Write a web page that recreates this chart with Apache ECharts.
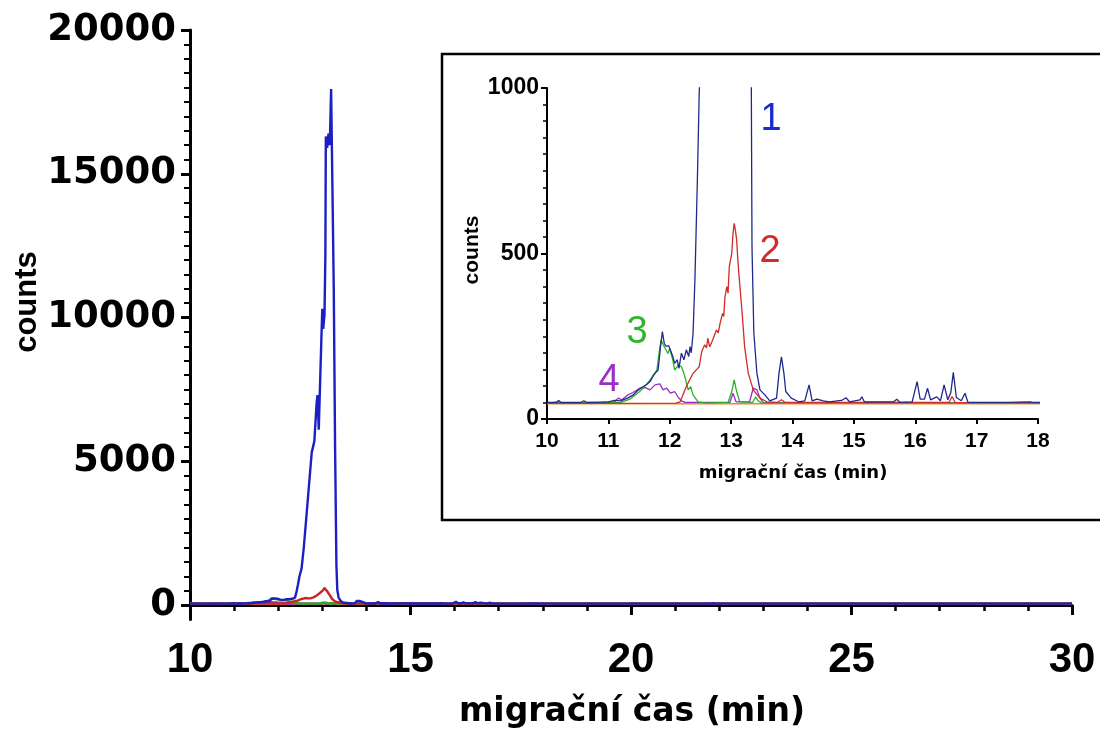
<!DOCTYPE html>
<html>
<head>
<meta charset="utf-8">
<script src="https://cdn.jsdelivr.net/npm/echarts@6/dist/echarts.min.js"></script>
<style>
html,body{margin:0;padding:0;background:#fff;}
#chart{width:1100px;height:734px;}
</style>
</head>
<body>
<div id="chart"></div>
<script>
// ---- data: [migration time (min), counts] ----
const trace1 = [[10.0,50],[10.15,50],[10.19,56],[10.23,50],[10.55,50],[10.6,55],[10.65,50],[10.9,51],[11.0,52],[11.1,56],[11.2,55],[11.32,64],[11.4,72],[11.46,83],[11.52,92],[11.57,98],[11.63,105],[11.68,113],[11.73,130],[11.76,138],[11.81,148],[11.85,219],[11.88,264],[11.91,229],[11.94,219],[11.98,222],[12.0,213],[12.05,189],[12.08,168],[12.12,179],[12.15,153],[12.19,199],[12.23,179],[12.27,209],[12.31,189],[12.33,219],[12.35,200],[12.38,259],[12.41,420],[12.45,722],[12.48,984],[12.53,1270],[12.58,2000],[12.63,2900],[12.7,4200],[12.76,5300],[12.82,5700],[12.87,7000],[12.89,7300],[12.92,6100],[12.94,7200],[12.98,9300],[13.0,10300],[13.02,9600],[13.05,10100],[13.07,12200],[13.08,16300],[13.11,15900],[13.14,16400],[13.17,16000],[13.2,17950],[13.23,14500],[13.26,11000],[13.29,5500],[13.32,1400],[13.34,520],[13.37,260],[13.42,138],[13.47,88],[13.55,73],[13.63,55],[13.74,63],[13.78,138],[13.82,188],[13.86,138],[13.89,83],[13.98,63],[14.1,52],[14.2,55],[14.27,103],[14.32,55],[14.4,60],[14.5,55],[14.6,52],[14.8,56],[14.87,64],[14.93,52],[15.1,58],[15.13,67],[15.17,52],[15.65,52],[15.7,60],[15.75,50],[15.95,52],[16.03,113],[16.08,60],[16.15,60],[16.2,93],[16.25,58],[16.35,67],[16.41,55],[16.47,103],[16.53,58],[16.58,80],[16.62,141],[16.67,65],[16.75,55],[16.81,78],[16.86,50],[17.5,50],[17.87,52],[17.92,50],[18.0,50],[21.8,50],[21.86,60],[21.92,50],[30.0,50]];
const trace2 = [[10.0,47],[12.1,48],[12.17,52],[12.27,98],[12.33,120],[12.38,138],[12.44,150],[12.48,158],[12.52,203],[12.57,224],[12.6,215],[12.62,244],[12.65,218],[12.68,230],[12.71,244],[12.74,238],[12.76,269],[12.79,260],[12.82,289],[12.86,319],[12.88,310],[12.9,369],[12.93,400],[12.95,380],[12.97,460],[13.01,500],[13.03,560],[13.05,591],[13.07,570],[13.09,541],[13.11,480],[13.13,430],[13.18,319],[13.22,218],[13.28,138],[13.36,88],[13.47,63],[13.58,52],[13.75,50],[13.82,58],[13.88,50],[16.55,50],[16.6,68],[16.65,50],[30.0,47]];
const trace3 = [[10.0,47],[11.2,50],[11.35,60],[11.51,83],[11.6,100],[11.68,118],[11.74,135],[11.79,148],[11.84,218],[11.86,239],[11.89,225],[11.92,229],[11.97,198],[12.0,213],[12.05,178],[12.08,148],[12.14,163],[12.19,158],[12.23,138],[12.26,118],[12.3,88],[12.34,98],[12.38,73],[12.46,52],[12.6,48],[12.95,50],[13.01,83],[13.05,118],[13.09,83],[13.14,52],[13.35,50],[13.4,67],[13.44,55],[13.5,48],[30.0,47]];
const trace4 = [[10.0,48],[10.2,52],[10.25,48],[11.1,52],[11.16,63],[11.22,58],[11.32,73],[11.4,80],[11.51,93],[11.6,95],[11.68,88],[11.76,103],[11.84,106],[11.89,88],[11.95,93],[12.01,78],[12.08,83],[12.14,65],[12.19,55],[12.25,50],[12.98,50],[13.03,78],[13.08,52],[13.3,52],[13.36,93],[13.42,88],[13.47,63],[13.52,50],[30.0,48]];
const trace5 = [[10.0,46],[30.0,46]];

const mainXTicks = [10, 15, 20, 25, 30];
const mainYLabels = [0, 5000, 10000, 15000, 20000];
const insetXTicks = [10, 11, 12, 13, 14, 15, 16, 17, 18];
const insetYLabels = [0, 500, 1000];
const peakLabels = ['1', '2', '3', '4'];
const axisTitleX = 'migrační čas (min)';
const axisTitleY = 'counts';

// ---- styles ----
const mainColors = ['#1c20c4', '#d02222', '#22b022', '#9a30c0', '#e0902a'];
const insetColors = ['#1e2a8a', '#d02a2a', '#2ab02a', '#9a30c0', '#e0902a'];
const labelColors = ['#1a2ad0', '#d42a2a', '#2db52d', '#9b30c8'];
const traces = [trace1, trace2, trace3, trace4, trace5];

const minorY = [];
for (let v = 500; v < 20000; v += 500) if (v % 5000 !== 0) minorY.push(v);

const chart = echarts.init(document.getElementById('chart'), null, {renderer: 'canvas'});

const series = [];
// draw order: orange, purple, green, red, blue
for (let i = traces.length - 1; i >= 0; i--) {
  series.push({
    type: 'line', xAxisIndex: 0, yAxisIndex: 0, data: traces[i], showSymbol: false,
    lineStyle: {color: mainColors[i], width: 2.4}, z: 5 - i, silent: true, animation: false
  });
}
for (let i = traces.length - 1; i >= 0; i--) {
  series.push({
    type: 'line', xAxisIndex: 1, yAxisIndex: 2, data: traces[i], showSymbol: false,
    lineStyle: {color: insetColors[i], width: 1.3}, z: 5 - i, silent: true, animation: false, clip: true
  });
}

const plain = v => String(v);
const bold = (size, family) => ({color: '#000', fontWeight: 'bold', fontSize: size, fontFamily: family || 'Liberation Sans', formatter: plain});

chart.setOption({
  animation: false,
  backgroundColor: '#fff',
  grid: [
    {left: 190, top: 30, width: 882, height: 589.4},
    {left: 547, top: 88, width: 491, height: 331}
  ],
  xAxis: [
    {
      gridIndex: 0, type: 'value', min: 10, max: 30, interval: 5,
      axisLine: {show: true, lineStyle: {color: '#000', width: 3}},
      axisTick: {show: true, length: 10, lineStyle: {color: '#000', width: 3}},
      minorTick: {show: true, splitNumber: 5, length: 6, lineStyle: {color: '#000', width: 2.5}},
      splitLine: {show: false}, minorSplitLine: {show: false},
      axisLabel: Object.assign({margin: 20, customValues: mainXTicks}, bold(42))
    },
    {
      gridIndex: 1, type: 'value', min: 10, max: 18, interval: 1,
      axisLine: {show: true, lineStyle: {color: '#000', width: 2}},
      axisTick: {show: true, length: 5, lineStyle: {color: '#000', width: 2}},
      splitLine: {show: false},
      axisLabel: Object.assign({margin: 12, customValues: insetXTicks}, bold(21))
    }
  ],
  yAxis: [
    {
      gridIndex: 0, type: 'value', position: 'left', min: -500, max: 20000,
      axisLine: {show: true, lineStyle: {color: '#000', width: 3}},
      axisTick: {show: true, length: 9, customValues: mainYLabels, lineStyle: {color: '#000', width: 3}},
      splitLine: {show: false},
      axisLabel: Object.assign({margin: 14, customValues: mainYLabels}, bold(37, 'DejaVu Sans'))
    },
    {
      gridIndex: 0, type: 'value', position: 'left', offset: 0, min: -500, max: 20000,
      axisLine: {show: false},
      axisTick: {show: true, length: 6, customValues: minorY, lineStyle: {color: '#000', width: 2}},
      splitLine: {show: false},
      axisLabel: {show: false}
    },
    {
      gridIndex: 1, type: 'value', position: 'left', min: 0, max: 1000, interval: 500,
      axisLine: {show: true, lineStyle: {color: '#000', width: 2}},
      axisTick: {show: true, length: 6, lineStyle: {color: '#000', width: 2}},
      minorTick: {show: true, splitNumber: 10, length: 4, lineStyle: {color: '#000', width: 1.5}},
      splitLine: {show: false}, minorSplitLine: {show: false},
      axisLabel: Object.assign({margin: 8, customValues: insetYLabels}, bold(23))
    }
  ],
  graphic: [
    {type: 'rect', shape: {x: 442, y: 54, width: 700, height: 466}, style: {fill: 'none', stroke: '#000', lineWidth: 2.5}, z: 1},
    {type: 'text', x: 27, y: 302, rotation: Math.PI / 2, style: {text: axisTitleY, align: 'center', verticalAlign: 'middle', fill: '#000', font: 'bold 31px "Liberation Sans"'}},
    {type: 'text', x: 632, y: 712, style: {text: axisTitleX, align: 'center', verticalAlign: 'middle', fill: '#000', font: 'bold 33px "DejaVu Sans"'}},
    {type: 'text', x: 472, y: 250, rotation: Math.PI / 2, style: {text: axisTitleY, align: 'center', verticalAlign: 'middle', fill: '#000', font: 'bold 21px "Liberation Sans"'}},
    {type: 'text', x: 793, y: 473, style: {text: axisTitleX, align: 'center', verticalAlign: 'middle', fill: '#000', font: 'bold 18px "DejaVu Sans"'}},
    {type: 'text', x: 771, y: 120, style: {text: peakLabels[0], align: 'center', verticalAlign: 'middle', fill: labelColors[0], font: '38px "Liberation Sans"'}},
    {type: 'text', x: 770, y: 252, style: {text: peakLabels[1], align: 'center', verticalAlign: 'middle', fill: labelColors[1], font: '38px "Liberation Sans"'}},
    {type: 'text', x: 637, y: 333, style: {text: peakLabels[2], align: 'center', verticalAlign: 'middle', fill: labelColors[2], font: '38px "Liberation Sans"'}},
    {type: 'text', x: 609, y: 381, style: {text: peakLabels[3], align: 'center', verticalAlign: 'middle', fill: labelColors[3], font: '38px "Liberation Sans"'}}
  ],
  series: series
});
</script>
</body>
</html>
